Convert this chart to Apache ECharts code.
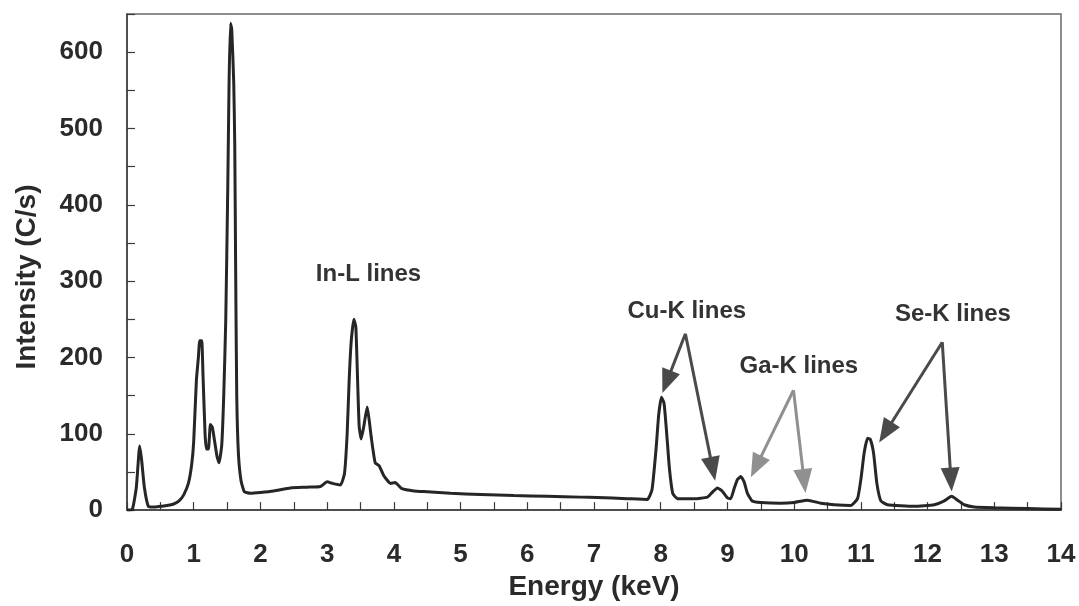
<!DOCTYPE html>
<html>
<head>
<meta charset="utf-8">
<script src="https://cdn.jsdelivr.net/npm/echarts@6/dist/echarts.min.js"></script>
<style>
  html, body { margin: 0; padding: 0; background: #fff; }
  #chart { width: 1079px; height: 606px; }
</style>
</head>
<body>
<div id="chart"></div>
<script>
// spectrum (keV, C/s)
const energy = [
  0.00, 0.08, 0.14, 0.19, 0.22, 0.26, 0.32, 0.40, 0.50, 0.60, 0.70, 0.78, 0.85, 0.92, 0.97,
  1.00, 1.04, 1.07, 1.09, 1.12, 1.14, 1.17, 1.19, 1.22, 1.25, 1.28, 1.31, 1.35, 1.38, 1.42,
  1.45, 1.48, 1.51, 1.53, 1.55, 1.57, 1.60, 1.615, 1.63, 1.645, 1.67, 1.71, 1.76, 1.85,
  2.00, 2.20, 2.45, 2.70, 2.90, 3.00, 3.08, 3.20, 3.26, 3.30, 3.33, 3.36, 3.40, 3.43, 3.46,
  3.48, 3.51, 3.55, 3.60, 3.63, 3.66, 3.72, 3.78, 3.85, 3.95, 4.02, 4.12, 4.30, 4.50, 4.85,
  5.30, 5.80, 6.30, 6.80, 7.05, 7.50, 7.80, 7.87, 7.93, 7.97, 8.01, 8.05, 8.09, 8.13, 8.18,
  8.25, 8.50, 8.70, 8.78, 8.85, 8.92, 9.00, 9.05, 9.10, 9.15, 9.20, 9.25, 9.30, 9.37, 9.50,
  9.80, 10.00, 10.20, 10.40, 10.60, 10.85, 10.95, 11.00, 11.05, 11.10, 11.14, 11.19, 11.24,
  11.30, 11.40, 11.80, 12.10, 12.25, 12.36, 12.45, 12.55, 12.70, 13.00, 13.50, 14.00
];
const intensity = [
  0, 1, 30, 84, 65, 30, 5, 4, 5, 6, 8, 12, 20, 35, 60,
  90, 170, 200, 222, 222, 175, 100, 80, 80, 112, 108, 92, 70, 62, 85,
  150, 248, 420, 560, 638, 630, 560, 480, 300, 150, 74, 38, 24, 22,
  23, 25, 29, 30, 31, 37, 35, 33, 48, 100, 170, 220, 250, 240, 160,
  110, 93, 110, 135, 118, 96, 62, 58, 45, 35, 36, 28, 25, 24, 22,
  20.5, 19, 18, 17, 16.5, 15, 14, 27, 80, 125, 148, 140, 100, 55, 22,
  15, 15, 17, 24, 29, 25, 16, 15, 28, 40, 44, 37, 22, 12, 10,
  9, 10, 13, 9, 7, 6, 15, 40, 75, 94, 93, 75, 35,
  12, 7, 5, 7, 12, 18, 13, 7, 4, 3, 2, 1
];

// annotation labels (data coordinates)
const annoText = ['In-L lines', 'Cu-K lines', 'Ga-K lines', 'Se-K lines'];
const annoX = [3.62, 8.39, 10.07, 12.38];
const annoY = [309, 260, 188, 257];

// arrows: start -> arrow head centre, colour per group
const arrowFrom = [[8.37, 231], [8.37, 231], [9.99, 157], [9.99, 157], [12.22, 220], [12.22, 220]];
const arrowTo = [[8.09, 168], [8.78, 54], [9.43, 57], [10.15, 38], [11.37, 102], [12.35, 40]];
const arrowColor = ['#4a4a4a', '#4a4a4a', '#909090', '#909090', '#4a4a4a', '#4a4a4a'];

const font = 'Liberation Sans, Arial, Helvetica, sans-serif';
const chart = echarts.init(document.getElementById('chart'));

const lineData = energy.map((e, i) => [e, intensity[i]]);

chart.setOption({
  animation: false,
  grid: {
    left: 127, right: 18, top: 14, bottom: 95,
    show: true, borderColor: '#6a6a6a', borderWidth: 1.5
  },
  xAxis: {
    type: 'value', min: 0, max: 14, interval: 0.5,
    name: 'Energy (keV)', nameLocation: 'middle', nameGap: 62,
    nameTextStyle: { fontFamily: font, fontWeight: 'bold', fontSize: 28, color: '#2a2a2a' },
    axisLine: { lineStyle: { color: '#3a3a3a', width: 1.5 } },
    axisTick: { inside: true, length: 8, lineStyle: { color: '#3a3a3a', width: 1.2 } },
    splitLine: { show: false },
    axisLabel: {
      margin: 32, fontFamily: font, fontWeight: 'bold', fontSize: 26, color: '#2a2a2a',
      formatter: v => (Math.abs(v - Math.round(v)) < 1e-6 ? String(Math.round(v)) : '')
    }
  },
  yAxis: {
    type: 'value', min: 0, max: 650, interval: 50,
    name: 'Intensity (C/s)', nameLocation: 'middle', nameGap: 86,
    nameTextStyle: {
      fontFamily: font, fontWeight: 'bold', fontSize: 28, color: '#2a2a2a',
      padding: [0, 30, 0, 0]
    },
    axisLine: { show: true, lineStyle: { color: '#3a3a3a', width: 1.5 } },
    axisTick: { show: true, inside: true, length: 8, lineStyle: { color: '#3a3a3a', width: 1.2 } },
    splitLine: { show: false },
    axisLabel: {
      margin: 24, fontFamily: font, fontWeight: 'bold', fontSize: 26, color: '#2a2a2a',
      formatter: v => (v % 100 === 0 && v <= 600 ? String(v) : '')
    }
  },
  series: [{
    type: 'line',
    data: lineData,
    showSymbol: false,
    smooth: 0.15,
    lineStyle: { color: '#262626', width: 3 },
    silent: true,
    markLine: {
      silent: true,
      symbol: ['none', 'triangle'],
      symbolSize: [19, 24],
      label: { show: false },
      data: arrowFrom.map((p, i) => [
        { coord: p, lineStyle: { color: arrowColor[i], width: 3, type: 'solid' },
          itemStyle: { color: arrowColor[i] } },
        { coord: arrowTo[i] }
      ])
    },
    markPoint: {
      silent: true,
      symbol: 'circle',
      symbolSize: 1,
      itemStyle: { color: 'rgba(0,0,0,0)' },
      label: {
        show: true, position: 'inside',
        fontFamily: font, fontWeight: 'bold', fontSize: 24, color: '#333333',
        formatter: p => p.name
      },
      data: annoText.map((t, i) => ({ name: t, coord: [annoX[i], annoY[i]] }))
    }
  }]
});
</script>
</body>
</html>
